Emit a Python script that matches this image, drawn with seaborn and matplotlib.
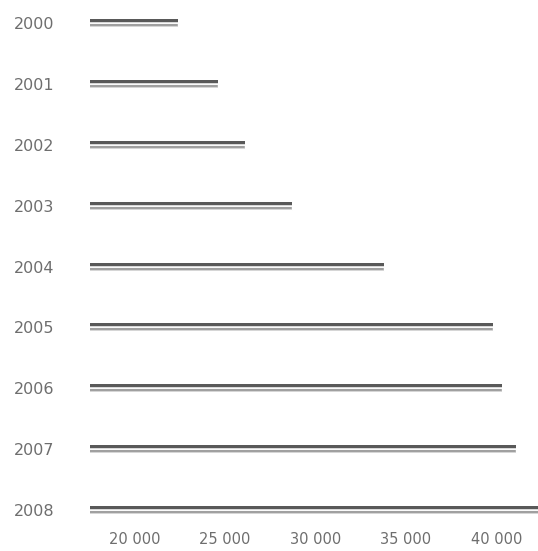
import numpy as np
import pandas as pd
import matplotlib
matplotlib.use("Agg")
import matplotlib.pyplot as plt
import seaborn as sns

# adatok
years = ["2000", "2001", "2002", "2003", "2004", "2005", "2006", "2007", "2008"]
values = [22400, 24600, 26100, 28700, 33800, 39800, 40300, 41100, 43000]
xticks = [20000, 25000, 30000, 35000, 40000]
xticklabels = ["20 000", "25 000", "30 000", "35 000", "40 000"]

sns.set_theme(style="white")
plt.rcParams["font.family"] = ["DejaVu Sans"]

W, H, DPI = 538, 551, 100
fig = plt.figure(figsize=(W / DPI, H / DPI), dpi=DPI)
ax = fig.add_axes([90 / W, (H - 520) / H, 448 / W, 520 / H])

df = pd.DataFrame({"year": years, "value": values})
px = 1 / 60.8  # egy pixel adategysegben

# alap csik (szurke), erre jonnek a fenyes savok
sns.barplot(data=df, x="value", y="year", orient="h", width=8 * px,
            color="#a0a0a0", saturation=1, ax=ax)
pos = np.arange(len(years))
ax.barh(pos - 2.5 * px, df["value"], height=3 * px, color="#595959", linewidth=0)
ax.barh(pos - 0.5 * px, df["value"], height=1 * px, color="#d8d8d8", linewidth=0)
ax.barh(pos + 0.5 * px, df["value"], height=1 * px, color="#fafafa", linewidth=0)
ax.barh(pos + 3.5 * px, df["value"], height=1 * px, color="#d6d6d6", linewidth=0)

ax.set_xlim(17540, 42293)
ax.set_ylim(8 + 10 * px, -23.3 * px)
ax.set_xticks(xticks)
ax.set_xticklabels(xticklabels)
ax.set_xlabel("")
ax.set_ylabel("")
sns.despine(ax=ax, left=True, bottom=True)
ax.tick_params(axis="x", length=0, pad=9, labelsize=10.5, labelcolor="#6e6e6e")
ax.tick_params(axis="y", length=0, pad=55, labelsize=11.5, labelcolor="#6e6e6e")
for lbl in ax.get_yticklabels():
    lbl.set_horizontalalignment("left")

fig.savefig("out.png", dpi=DPI)
